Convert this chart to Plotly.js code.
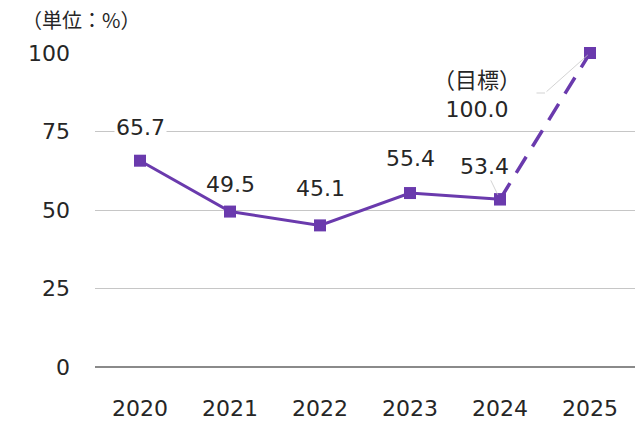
<!DOCTYPE html>
<html><head><meta charset="utf-8">
<script src="https://cdn.plot.ly/plotly-3.0.1.min.js"></script>
<style>body{margin:0;background:#fff}#c{width:643px;height:424px}</style>
</head><body><div id="c"></div>
<script>
const years = ['2020','2021','2022','2023','2024','2025'];
const actualYears = ['2020','2021','2022','2023','2024'];
const actualValues = [65.7, 49.5, 45.1, 55.4, 53.4];
const targetYears = ['2024','2025'];
const targetValues = [53.4, 100.0];
const labelTexts = ['65.7','49.5','45.1','55.4','53.4'];
const targetLabel = '（目標）<br>100.0';
const yTicks = [0, 25, 50, 75, 100];
const unitText = '（単位：%）';

const purple = '#6a3aad';
const font = "'DejaVu Sans', 'Noto Sans CJK JP', sans-serif";
const txt = '#262626';
const leader = '#c8c8c8';

const traces = [
  {x: targetYears, y: targetValues, mode: 'lines+markers', type: 'scatter', cliponaxis: false,
   line: {color: purple, width: 3.5, dash: '19px,12px'},
   marker: {symbol: 'square', size: 12, color: purple}, hoverinfo: 'skip'},
  {x: actualYears, y: actualValues, mode: 'lines+markers', type: 'scatter', cliponaxis: false,
   line: {color: purple, width: 3},
   marker: {symbol: 'square', size: 12, color: purple}, hoverinfo: 'skip'}
];

const yShifts = [33, 27, 37, 35, 0];
const annotations = [];
actualValues.forEach((v,i)=>{
  const idx = years.indexOf(actualYears[i]);
  if (i < 4) {
    annotations.push({x: idx, y: v, xref:'x', yref:'y', text: labelTexts[i], showarrow: false,
      yshift: yShifts[i], bgcolor: i===0 ? '#ffffff' : 'rgba(0,0,0,0)', borderpad: 1,
      font: {family: font, size: 22, color: txt}});
  } else {
    annotations.push({x: idx, y: v, xref:'x', yref:'y', text: labelTexts[i], showarrow: true,
      ax: -16, ay: -33, arrowhead: 0, arrowwidth: 0.8, arrowcolor: leader, standoff: 5,
      font: {family: font, size: 22, color: txt}});
  }
});
const tIdx = years.indexOf(targetYears[1]);
annotations.push({
  x: tIdx, y: targetValues[1], xref:'x', yref:'y', text: targetLabel, showarrow: false,
  xshift: -113, yshift: -42, align: 'center',
  font: {family: font, size: 22, color: txt}
});
annotations.push({
  x: tIdx, y: targetValues[1], xref:'x', yref:'y', text: '', showarrow: true,
  ax: -45, ay: 40, arrowhead: 0, arrowwidth: 0.8, arrowcolor: leader, standoff: 3
});
annotations.push({
  x: tIdx, y: targetValues[1], xref:'x', yref:'y', text: '', showarrow: true,
  xshift: -45, yshift: -40, ax: -10, ay: 0, arrowhead: 0, arrowwidth: 0.8, arrowcolor: leader, standoff: 0
});
annotations.push({
  x: 0, y: 1, xref:'paper', yref:'paper', xanchor:'left', yanchor:'bottom',
  xshift: -75, yshift: 17, text: unitText, showarrow: false,
  font: {family: "'Noto Sans CJK JP', sans-serif", size: 20, color: txt}
});

const layout = {
  width: 643, height: 424,
  margin: {l: 95, r: 8, t: 53, b: 57},
  paper_bgcolor: '#fff', plot_bgcolor: '#fff',
  showlegend: false,
  xaxis: {type: 'category', categoryarray: years, categoryorder: 'array', range: [-0.5, 5.5],
    showgrid: false, zeroline: false, showline: false, ticks: '',
    tickfont: {family: font, size: 22, color: txt}, ticklabelstandoff: 26, fixedrange: true},
  yaxis: {range: [0, 100], tickvals: yTicks, showgrid: true, gridcolor: '#c6c6c6', gridwidth: 1,
    zeroline: true, zerolinecolor: '#8a8a8a', zerolinewidth: 2.5, showline: false, ticks: '',
    tickfont: {family: font, size: 22, color: txt}, ticklabelstandoff: 24, fixedrange: true},
  annotations: annotations
};
Plotly.newPlot('c', traces, layout, {displayModeBar: false, staticPlot: true});
</script></body></html>
